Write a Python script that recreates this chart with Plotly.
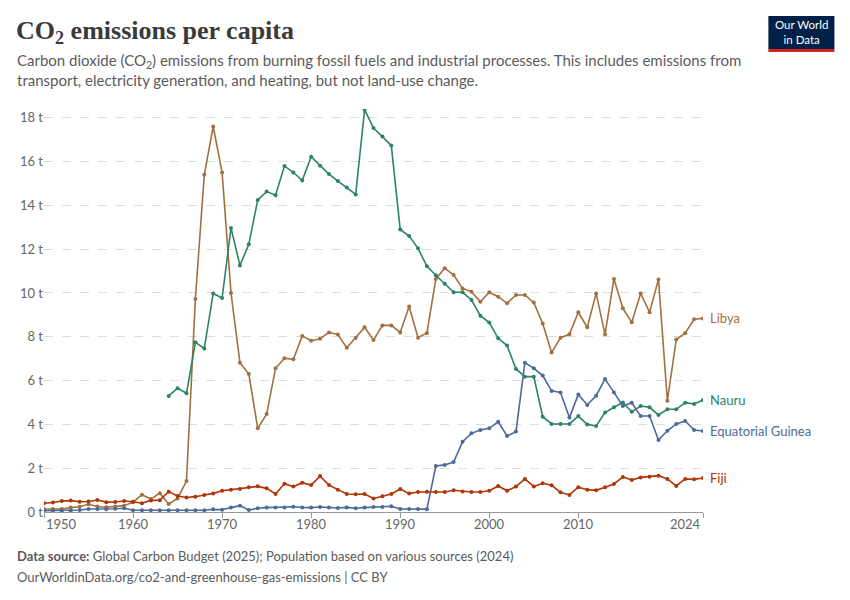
import plotly.graph_objects as go

years = list(range(1950, 2025))

libya = [0.14, 0.14, 0.14, 0.2, 0.24, 0.35, 0.25, 0.22, 0.25, 0.29,
         0.45, 0.79, 0.59, 0.86, 0.37, 0.62, 1.41, 9.73, 15.4, 17.6,
         15.5, 10.0, 6.82, 6.3, 3.82, 4.47, 6.56, 7.02, 6.97, 8.04,
         7.82, 7.91, 8.2, 8.1, 7.5, 7.95, 8.43, 7.85, 8.52, 8.52,
         8.2, 9.38, 7.96, 8.17, 10.64, 11.13, 10.82, 10.21, 10.06, 9.6,
         10.03, 9.83, 9.53, 9.91, 9.91, 9.56, 8.61, 7.28, 7.96, 8.11,
         9.12, 8.43, 9.98, 8.11, 10.64, 9.3, 8.66, 9.98, 9.12, 10.62,
         5.08, 7.88, 8.16, 8.8, 8.84]

nauru_years = list(range(1964, 2025))
nauru = [5.3, 5.65, 5.42, 7.75, 7.47, 9.98, 9.77, 12.97, 11.26, 12.22,
         14.25, 14.63, 14.46, 15.8, 15.5, 15.14, 16.22, 15.81, 15.43, 15.11,
         14.82, 14.5, 18.37, 17.53, 17.14, 16.73, 12.9, 12.6, 12.04, 11.22,
         10.81, 10.42, 10.03, 10.03, 9.68, 8.96, 8.65, 7.93, 7.6, 6.53,
         6.18, 6.18, 4.35, 4.02, 4.02, 4.02, 4.38, 4.0, 3.93, 4.54,
         4.78, 5.0, 4.58, 4.84, 4.78, 4.43, 4.69, 4.69, 4.99, 4.93,
         5.11]

eq_guinea = [0.06, 0.06, 0.06, 0.06, 0.09, 0.14, 0.14, 0.12, 0.15, 0.17,
             0.08, 0.08, 0.08, 0.08, 0.08, 0.08, 0.08, 0.08, 0.08, 0.12,
             0.1, 0.2, 0.29, 0.09, 0.17, 0.2, 0.21, 0.21, 0.24, 0.21,
             0.2, 0.23, 0.21, 0.18, 0.21, 0.17, 0.2, 0.23, 0.23, 0.26,
             0.14, 0.14, 0.14, 0.13, 2.1, 2.15, 2.28, 3.21, 3.59, 3.74,
             3.82, 4.12, 3.47, 3.67, 6.82, 6.56, 6.23, 5.53, 5.46, 4.31,
             5.37, 4.89, 5.31, 6.07, 5.46, 4.84, 4.99, 4.38, 4.38, 3.29,
             3.71, 4.02, 4.16, 3.74, 3.7]

fiji = [0.4, 0.43, 0.5, 0.52, 0.47, 0.48, 0.55, 0.45, 0.46, 0.5,
        0.47, 0.4, 0.53, 0.54, 0.93, 0.73, 0.66, 0.7, 0.78, 0.85,
        0.97, 1.02, 1.05, 1.13, 1.17, 1.08, 0.82, 1.29, 1.16, 1.34,
        1.23, 1.64, 1.23, 1.02, 0.82, 0.81, 0.82, 0.62, 0.72, 0.82,
        1.05, 0.84, 0.91, 0.92, 0.91, 0.91, 0.99, 0.94, 0.91, 0.91,
        0.97, 1.19, 0.97, 1.16, 1.51, 1.16, 1.31, 1.22, 0.9, 0.78,
        1.13, 1.02, 0.99, 1.13, 1.28, 1.6, 1.46, 1.58, 1.61, 1.66,
        1.51, 1.19, 1.51, 1.49, 1.55]

series = [
    ("Libya", years, libya, "#A2703F"),
    ("Nauru", nauru_years, nauru, "#2C8465"),
    ("Equatorial Guinea", years, eq_guinea, "#4C6A9C"),
    ("Fiji", years, fiji, "#B13507"),
]

x_ticks = [1950, 1960, 1970, 1980, 1990, 2000, 2010, 2024]
y_ticks = [0, 2, 4, 6, 8, 10, 12, 14, 16, 18]
y_tick_text = [f"{v} t" for v in y_ticks]

# plot area in pixels
L, R, T, B = 44.4, 702.7, 109, 512
W, H = 850, 600


def px(x):
    return (x - L) / (R - L)


def py(y):
    return (B - y) / (B - T)


fig = go.Figure()
for name, xs, ys, color in series:
    fig.add_trace(go.Scatter(x=xs, y=ys, name=name, mode="lines+markers",
                             line=dict(color=color, width=1.6),
                             marker=dict(color=color, size=4)))
    fig.add_annotation(x=xs[-1], y=ys[-1], xref="x", yref="y", text=name,
                       showarrow=False, xanchor="left", xshift=5,
                       font=dict(family="Lato", size=13, color=color))

for yr in x_ticks:
    anchor = "center"
    if yr == x_ticks[0]:
        anchor = "left"
    elif yr == x_ticks[-1]:
        anchor = "right"
    fig.add_annotation(x=yr, y=py(524), xref="x", yref="paper", text=str(yr),
                       showarrow=False, xanchor=anchor, yanchor="middle",
                       font=dict(family="Lato", size=13, color="#666666"))

grey = "#5b5b5b"
fig.add_annotation(x=px(14), y=py(32), xref="paper", yref="paper",
                   text="<b>CO<sub>2</sub> emissions per capita</b>", showarrow=False,
                   xanchor="left", yanchor="middle",
                   font=dict(family="Liberation Serif", size=26, color="#3a3a3a"))
fig.add_annotation(x=px(15), y=py(61), xref="paper", yref="paper",
                   text="Carbon dioxide (CO<sub>2</sub>) emissions from burning fossil fuels and industrial processes. This includes emissions from",
                   showarrow=False, xanchor="left", yanchor="middle",
                   font=dict(family="Lato", size=15, color=grey))
fig.add_annotation(x=px(15), y=py(80), xref="paper", yref="paper",
                   text="transport, electricity generation, and heating, but not land-use change.",
                   showarrow=False, xanchor="left", yanchor="middle",
                   font=dict(family="Lato", size=15, color=grey))
fig.add_annotation(x=px(15), y=py(556), xref="paper", yref="paper",
                   text="<b>Data source:</b> Global Carbon Budget (2025); Population based on various sources (2024)",
                   showarrow=False, xanchor="left", yanchor="middle",
                   font=dict(family="Lato", size=13, color=grey))
fig.add_annotation(x=px(15), y=py(577), xref="paper", yref="paper",
                   text="OurWorldinData.org/co2-and-greenhouse-gas-emissions | CC BY",
                   showarrow=False, xanchor="left", yanchor="middle",
                   font=dict(family="Lato", size=13, color=grey))

# logo
fig.add_shape(type="rect", xref="paper", yref="paper",
              x0=px(768), x1=px(834), y0=py(49), y1=py(16),
              fillcolor="#002147", line_width=0)
fig.add_shape(type="rect", xref="paper", yref="paper",
              x0=px(768), x1=px(834), y0=py(52), y1=py(49),
              fillcolor="#CE261E", line_width=0)
fig.add_annotation(x=px(801), y=py(32.5), xref="paper", yref="paper",
                   text="Our World<br>in Data", showarrow=False,
                   xanchor="center", yanchor="middle",
                   font=dict(family="Lato", size=11.5, color="white"))

fig.update_layout(
    width=W, height=H,
    margin=dict(l=L, r=W - R, t=T, b=H - B),
    paper_bgcolor="white", plot_bgcolor="white",
    showlegend=False,
    font=dict(family="Lato", color="#666666"),
    xaxis=dict(range=[1950, 2024], tickvals=x_ticks, showticklabels=False,
               ticks="outside", ticklen=5, tickcolor="#999999",
               showgrid=False, zeroline=False, showline=True,
               linecolor="#999999", linewidth=1),
    yaxis=dict(range=[0, 18.4], tickvals=y_ticks, ticktext=y_tick_text,
               showgrid=True, gridcolor="#dddddd", griddash="dash",
               zeroline=False, ticks="", showline=False,
               tickfont=dict(family="Lato", size=13, color="#666666")),
)

# page has an 8px body margin by default; drop it so the figure sits at 0,0
fig.write_html("out.html", config={"displayModeBar": False},
               post_script="document.body.style.margin='0';")
